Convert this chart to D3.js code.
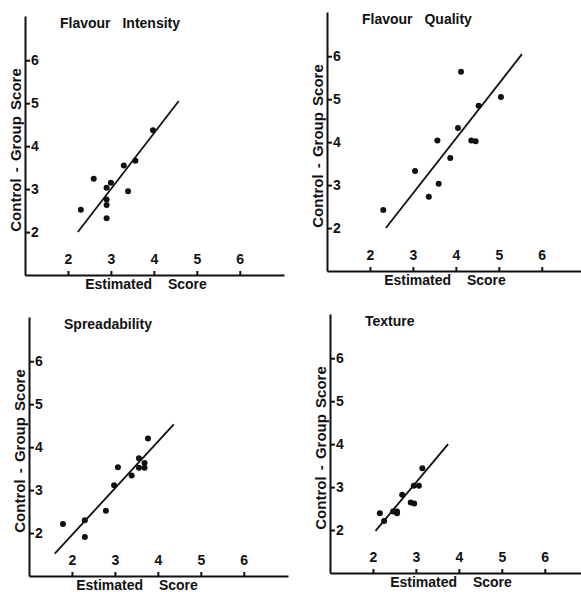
<!DOCTYPE html>
<html>
<head>
<meta charset="utf-8">
<script src="https://cdn.jsdelivr.net/npm/d3@7"></script>
<style>
  body { margin: 0; background: #fff; }
  svg { display: block; }
  .tick text { font-family: "Liberation Sans", Arial, sans-serif; font-weight: bold; font-size: 14px; fill: #111; }
  .tick line, .domain { stroke: #111; stroke-width: 2; }
  .panel-title { font-family: "Liberation Sans", Arial, sans-serif; font-weight: bold; font-size: 14px; word-spacing: 8px; fill: #111; }
  .x-title { font-family: "Liberation Sans", Arial, sans-serif; font-weight: bold; font-size: 14px; word-spacing: 12px; fill: #111; }
  .y-title { font-family: "Liberation Sans", Arial, sans-serif; font-weight: bold; font-size: 15px; word-spacing: 2px; fill: #111; }
</style>
</head>
<body>
<div id="chart"></div>
<script>
// tick labels shared by every panel
const xTicks = [2, 3, 4, 5, 6];
const yTicks = [2, 3, 4, 5, 6];

// panel titles
const titles = ["Flavour Intensity", "Flavour Quality", "Spreadability", "Texture"];

// Flavour Intensity
const intensityX = [2.3, 2.6, 2.9, 3.0, 2.9, 2.9, 2.9, 3.3, 3.57, 3.4, 3.98];
const intensityY = [2.52, 3.24, 3.03, 3.15, 2.76, 2.63, 2.32, 3.55, 3.66, 2.95, 4.37];
const intensityLineX = [2.23, 4.58];
const intensityLineY = [2.0, 5.05];

// Flavour Quality
const qualityX = [2.31, 3.05, 3.37, 3.57, 3.6, 3.87, 4.05, 4.12, 4.36, 4.46, 4.53, 5.05];
const qualityY = [2.42, 3.33, 2.73, 4.04, 3.03, 3.63, 4.33, 5.64, 4.04, 4.02, 4.85, 5.05];
const qualityLineX = [2.37, 5.54];
const qualityLineY = [2.0, 6.05];

// Spreadability
const spreadX = [1.79, 2.3, 2.3, 2.79, 2.98, 3.07, 3.39, 3.56, 3.56, 3.69, 3.69, 3.77];
const spreadY = [2.21, 1.91, 2.3, 2.52, 3.11, 3.53, 3.34, 3.74, 3.52, 3.63, 3.52, 4.2];
const spreadLineX = [1.6, 4.37];
const spreadLineY = [1.52, 4.53];

// Texture
const textureX = [2.16, 2.26, 2.47, 2.56, 2.56, 2.68, 2.88, 2.96, 2.95, 3.07, 3.15];
const textureY = [2.39, 2.21, 2.43, 2.43, 2.39, 2.82, 2.64, 2.62, 3.03, 3.03, 3.44];
const textureLineX = [2.06, 3.75];
const textureLineY = [1.98, 4.0];

const seriesX = [intensityX, qualityX, spreadX, textureX];
const seriesY = [intensityY, qualityY, spreadY, textureY];
const linesX = [intensityLineX, qualityLineX, spreadLineX, textureLineX];
const linesY = [intensityLineY, qualityLineY, spreadLineY, textureLineY];

// where each panel's corner (1,1) sits on the page
const layout = [
  {ox: 25, oy: 275, labelDx: 121},
  {ox: 327, oy: 271, labelDx: 118},
  {ox: 29, oy: 576, labelDx: 108},
  {ox: 330, oy: 573, labelDx: 121}
];

const W = 581, H = 592, size = 259;

const svg = d3.select("#chart")
  .append("svg")
  .attr("width", W)
  .attr("height", H);

titles.forEach((title, i) => {
  const lay = layout[i];
  const g = svg.append("g")
    .attr("transform", `translate(${lay.ox},${lay.oy - size})`);

  const x = d3.scaleLinear().domain([1, 7.03]).range([0, size]);
  const y = d3.scaleLinear().domain([1, 7.03]).range([size, 0]);

  // x axis: ticks point up, labels sit inside the plot
  g.append("g")
    .attr("transform", `translate(0,${size})`)
    .call(d3.axisTop(x)
      .tickValues(xTicks)
      .tickFormat(d3.format("d"))
      .tickSizeInner(4)
      .tickSizeOuter(0)
      .tickPadding(7));

  // y axis: ticks point right, labels just after them
  g.append("g")
    .call(d3.axisRight(y)
      .tickValues(yTicks)
      .tickFormat(d3.format("d"))
      .tickSizeInner(5)
      .tickSizeOuter(0)
      .tickPadding(1));

  // fitted line
  g.append("line")
    .attr("x1", x(linesX[i][0]))
    .attr("y1", y(linesY[i][0]))
    .attr("x2", x(linesX[i][1]))
    .attr("y2", y(linesY[i][1]))
    .attr("stroke", "#111")
    .attr("stroke-width", 1.8);

  // points
  g.append("g")
    .selectAll("circle")
    .data(seriesX[i].map((v, j) => [v, seriesY[i][j]]))
    .join("circle")
      .attr("cx", d => x(d[0]))
      .attr("cy", d => y(d[1]))
      .attr("r", 3)
      .attr("fill", "#111");

  // titles and labels
  g.append("text")
    .attr("class", "panel-title")
    .attr("x", 35)
    .attr("y", 12)
    .text(title);

  g.append("text")
    .attr("class", "x-title")
    .attr("x", lay.labelDx)
    .attr("y", size + 14)
    .attr("text-anchor", "middle")
    .text("Estimated Score");

  g.append("text")
    .attr("class", "y-title")
    .attr("transform", `translate(-10,${size - 125}) rotate(-90)`)
    .attr("text-anchor", "middle")
    .attr("dominant-baseline", "central")
    .text("Control - Group Score");
});
</script>
</body>
</html>
